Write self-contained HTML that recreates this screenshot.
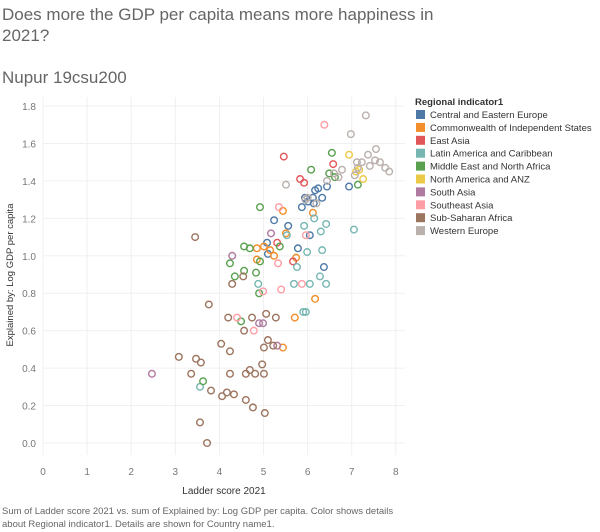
<!DOCTYPE html>
<html><head><meta charset="utf-8"><style>
body{margin:0;width:600px;height:532px;background:#fff;font-family:"Liberation Sans",sans-serif;overflow:hidden;position:relative}
.t{position:absolute;color:#555;white-space:nowrap}
</style></head><body>
<div class="t" style="left:2px;top:4px;font-size:17px;line-height:21px;color:#666">Does more the GDP per capita means more happiness in<br>2021?</div>
<div class="t" style="left:2px;top:68px;font-size:17px;color:#666">Nupur 19csu200</div>
<svg id="chart" width="600" height="532" style="position:absolute;left:0;top:0"></svg>
<div class="t" style="left:2px;top:505px;font-size:9.5px;line-height:13px;color:#666">Sum of Ladder score 2021 vs. sum of Explained by: Log GDP per capita.  Color shows details<br>about Regional indicator1.  Details are shown for Country name1.</div>
<script>
const regions=["Central and Eastern Europe","Commonwealth of Independent States","East Asia","Latin America and Caribbean","Middle East and North Africa","North America and ANZ","South Asia","Southeast Asia","Sub-Saharan Africa","Western Europe"];
const colors=["#4e79a7","#f28e2b","#e15759","#76b7b2","#59a14f","#edc948","#b07aa1","#ff9da7","#9c755f","#bab0ac"];
const xTicks=[0,1,2,3,4,5,6,7,8];
const yTicks=[0,0.2,0.4,0.6,0.8,1.0,1.2,1.4,1.6,1.8];
const ladder=[[6.94,6.44,6.17,6.24,6.12,5.94,6.33,6.01,6.14,5.87,5.24,5.56,6.05,5.08,5.1,5.78,6.37],
[6.12,5.44,4.85,5.01,5.15,5.24,4.85,5.51,5.74,6.17,5.71,5.44],
[5.46,5.83,5.92,6.58,5.31,5.67],
[6.15,6.42,5.92,7.05,6.3,5.53,5.99,6.33,5.76,6.28,4.88,5.69,6.05,6.42,5.9,5.96,3.56],
[6.55,6.08,6.49,6.62,7.14,4.92,4.56,4.69,5.37,4.92,4.24,4.35,4.56,4.83,4.9,4.49,3.63],
[6.94,7.1,7.17,7.26],
[5.17,4.29,4.9,4.99,2.47,5.31],
[6.38,5.35,5.96,5.33,4.99,5.4,5.87,4.4,4.78],
[3.45,3.76,4.2,4.56,4.74,5.06,5.28,4.29,4.54,4.04,4.24,3.08,3.47,3.58,5.1,5.01,5.22,3.36,4.24,4.6,4.69,4.81,5.01,4.97,3.81,4.06,4.17,4.33,4.6,4.76,5.03,3.56,3.72],
[7.32,6.98,7.55,7.37,7.23,7.12,7.53,7.41,7.64,7.76,7.85,7.14,7.07,6.78,6.44,5.51,6.2,6.0,5.95,6.7,6.6]];
const gdp=[[1.37,1.37,1.35,1.36,1.31,1.31,1.31,1.29,1.28,1.26,1.19,1.16,1.11,1.07,1.01,1.04,0.94],
[1.23,1.24,1.04,1.05,1.03,1.0,0.98,1.12,0.99,0.77,0.67,0.51],
[1.53,1.41,1.39,1.49,1.07,0.97],
[1.20,1.17,1.16,1.14,1.13,1.11,1.02,1.03,0.94,0.89,0.85,0.85,0.85,0.85,0.70,0.70,0.30],
[1.55,1.46,1.44,1.42,1.38,1.26,1.05,1.04,1.05,0.97,0.96,0.89,0.92,0.91,0.80,0.65,0.33],
[1.54,1.45,1.46,1.41],
[1.12,1.0,0.64,0.64,0.37,0.52],
[1.70,1.26,1.11,0.96,0.81,0.82,0.85,0.67,0.60],
[1.10,0.74,0.67,0.60,0.67,0.69,0.67,0.85,0.89,0.53,0.49,0.46,0.45,0.43,0.55,0.51,0.52,0.37,0.37,0.37,0.39,0.37,0.37,0.42,0.28,0.25,0.27,0.26,0.23,0.19,0.16,0.11,0.0],
[1.75,1.65,1.57,1.54,1.50,1.50,1.51,1.48,1.50,1.47,1.45,1.47,1.43,1.46,1.40,1.38,1.28,1.31,1.30,1.42,1.44]];
const svg=document.getElementById('chart'),NS="http://www.w3.org/2000/svg";
const X0=43,XS=44.1,Y0=443,YS=187.2;
const sx=v=>X0+v*XS, sy=v=>Y0-v*YS;
function mk(t,a,p){const e=document.createElementNS(NS,t);for(const k in a)e.setAttribute(k,a[k]);(p||svg).appendChild(e);return e;}
yTicks.forEach(v=>{
 const l=mk('line',{x1:X0,x2:405,y1:sy(v),y2:sy(v),stroke:'#f0f0f0'});
 
 
 const t=mk('text',{x:36,y:sy(v)+4,'text-anchor':'end','font-size':10,fill:'#777'});t.textContent=v.toFixed(1);
 
 
});
xTicks.forEach(v=>{
 const l=mk('line',{x1:sx(v),x2:sx(v),y1:97,y2:455,stroke:'#f0f0f0'});
 
 
 const t=mk('text',{x:sx(v),y:475,'text-anchor':'middle','font-size':10,fill:'#777'});t.textContent=v;
 
 
});
let xt=mk('text',{x:224,y:494,'text-anchor':'middle','font-size':10,fill:'#333'});xt.textContent='Ladder score 2021';


let yt=mk('text',{x:0,y:0,transform:'translate(13,275) rotate(-90)','text-anchor':'middle','font-size':9.5,fill:'#333'});yt.textContent='Explained by: Log GDP per capita';


regions.forEach((r,i)=>{
 ladder[i].forEach((lv,j)=>{
  const c=mk('circle',{cx:sx(lv),cy:sy(gdp[i][j]),r:3.3,fill:'none',stroke:colors[i],'stroke-width':1.4});
  
  
 });
 const y=115+i*12.9;
 const s=mk('rect',{x:416,y:y-5,width:9,height:9,fill:colors[i]});
 
 
 const t=mk('text',{x:430,y:y+3,'font-size':9.5,fill:'#333'});t.textContent=r;
 
 
});
let lt=mk('text',{x:415,y:105,'font-size':9.5,'font-weight':'bold',fill:'#333'});lt.textContent='Regional indicator1';


</script>
</body></html>
